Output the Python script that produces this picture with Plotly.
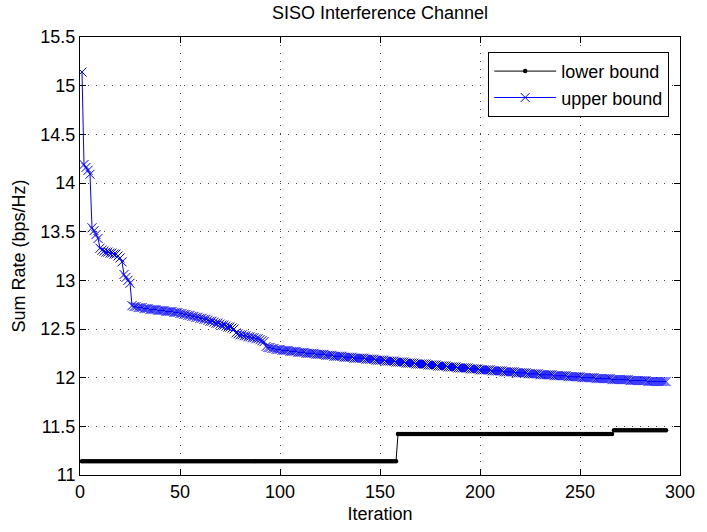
import plotly.graph_objects as go

iterations = list(range(1, 294))

upper_bound = [
    15.14, 14.19, 14.16, 14.13, 14.09, 13.54, 13.51, 13.47, 13.43, 13.33,
    13.31, 13.30, 13.29, 13.29, 13.28, 13.28, 13.27, 13.27, 13.25, 13.23,
    13.19, 13.06, 13.03, 13.00, 12.97, 12.74, 12.73, 12.73, 12.72, 12.72,
    12.72, 12.71, 12.71, 12.71, 12.70, 12.70, 12.70, 12.70, 12.69, 12.69,
    12.69, 12.69, 12.68, 12.68, 12.68, 12.68, 12.67, 12.67, 12.67, 12.66,
    12.66, 12.65, 12.65, 12.64, 12.64, 12.63, 12.63, 12.62, 12.62, 12.61,
    12.61, 12.60, 12.60, 12.59, 12.58, 12.58, 12.57, 12.56, 12.56, 12.55,
    12.54, 12.54, 12.53, 12.52, 12.52, 12.51, 12.50, 12.46, 12.45, 12.44,
    12.44, 12.43, 12.43, 12.42, 12.42, 12.41, 12.41, 12.40, 12.40, 12.39,
    12.38, 12.37, 12.32, 12.31, 12.31, 12.30, 12.30, 12.29, 12.29, 12.29,
    12.28, 12.28, 12.28, 12.28, 12.27, 12.27, 12.27, 12.27, 12.26, 12.26,
    12.26, 12.26, 12.25, 12.25, 12.25, 12.25, 12.25, 12.24, 12.24, 12.24,
    12.24, 12.24, 12.23, 12.23, 12.23, 12.23, 12.22, 12.22, 12.22, 12.22,
    12.22, 12.21, 12.21, 12.21, 12.21, 12.21, 12.20, 12.20, 12.20, 12.20,
    12.20, 12.20, 12.19, 12.19, 12.19, 12.19, 12.19, 12.18, 12.18, 12.18,
    12.18, 12.18, 12.17, 12.17, 12.17, 12.17, 12.17, 12.16, 12.16, 12.16,
    12.16, 12.16, 12.15, 12.15, 12.15, 12.15, 12.15, 12.14, 12.14, 12.14,
    12.14, 12.14, 12.14, 12.13, 12.13, 12.13, 12.13, 12.13, 12.12, 12.12,
    12.12, 12.12, 12.12, 12.11, 12.11, 12.11, 12.11, 12.11, 12.10, 12.10,
    12.10, 12.10, 12.10, 12.10, 12.09, 12.09, 12.09, 12.09, 12.09, 12.08,
    12.08, 12.08, 12.08, 12.08, 12.08, 12.07, 12.07, 12.07, 12.07, 12.07,
    12.07, 12.06, 12.06, 12.06, 12.06, 12.06, 12.06, 12.05, 12.05, 12.05,
    12.05, 12.05, 12.05, 12.04, 12.04, 12.04, 12.04, 12.04, 12.04, 12.03,
    12.03, 12.03, 12.03, 12.03, 12.03, 12.03, 12.02, 12.02, 12.02, 12.02,
    12.02, 12.02, 12.02, 12.01, 12.01, 12.01, 12.01, 12.01, 12.01, 12.01,
    12.00, 12.00, 12.00, 12.00, 12.00, 12.00, 12.00, 11.99, 11.99, 11.99,
    11.99, 11.99, 11.99, 11.99, 11.99, 11.98, 11.98, 11.98, 11.98, 11.98,
    11.98, 11.98, 11.98, 11.98, 11.97, 11.97, 11.97, 11.97, 11.97, 11.97,
    11.97, 11.97, 11.97, 11.96, 11.96, 11.96, 11.96, 11.96, 11.96, 11.96,
    11.96, 11.96, 11.96,
]

lower_bound = [
    11.14, 11.14, 11.14, 11.14, 11.14, 11.14, 11.14, 11.14, 11.14, 11.14,
    11.14, 11.14, 11.14, 11.14, 11.14, 11.14, 11.14, 11.14, 11.14, 11.14,
    11.14, 11.14, 11.14, 11.14, 11.14, 11.14, 11.14, 11.14, 11.14, 11.14,
    11.14, 11.14, 11.14, 11.14, 11.14, 11.14, 11.14, 11.14, 11.14, 11.14,
    11.14, 11.14, 11.14, 11.14, 11.14, 11.14, 11.14, 11.14, 11.14, 11.14,
    11.14, 11.14, 11.14, 11.14, 11.14, 11.14, 11.14, 11.14, 11.14, 11.14,
    11.14, 11.14, 11.14, 11.14, 11.14, 11.14, 11.14, 11.14, 11.14, 11.14,
    11.14, 11.14, 11.14, 11.14, 11.14, 11.14, 11.14, 11.14, 11.14, 11.14,
    11.14, 11.14, 11.14, 11.14, 11.14, 11.14, 11.14, 11.14, 11.14, 11.14,
    11.14, 11.14, 11.14, 11.14, 11.14, 11.14, 11.14, 11.14, 11.14, 11.14,
    11.14, 11.14, 11.14, 11.14, 11.14, 11.14, 11.14, 11.14, 11.14, 11.14,
    11.14, 11.14, 11.14, 11.14, 11.14, 11.14, 11.14, 11.14, 11.14, 11.14,
    11.14, 11.14, 11.14, 11.14, 11.14, 11.14, 11.14, 11.14, 11.14, 11.14,
    11.14, 11.14, 11.14, 11.14, 11.14, 11.14, 11.14, 11.14, 11.14, 11.14,
    11.14, 11.14, 11.14, 11.14, 11.14, 11.14, 11.14, 11.14, 11.14, 11.14,
    11.14, 11.14, 11.14, 11.14, 11.14, 11.14, 11.14, 11.14, 11.42, 11.42,
    11.42, 11.42, 11.42, 11.42, 11.42, 11.42, 11.42, 11.42, 11.42, 11.42,
    11.42, 11.42, 11.42, 11.42, 11.42, 11.42, 11.42, 11.42, 11.42, 11.42,
    11.42, 11.42, 11.42, 11.42, 11.42, 11.42, 11.42, 11.42, 11.42, 11.42,
    11.42, 11.42, 11.42, 11.42, 11.42, 11.42, 11.42, 11.42, 11.42, 11.42,
    11.42, 11.42, 11.42, 11.42, 11.42, 11.42, 11.42, 11.42, 11.42, 11.42,
    11.42, 11.42, 11.42, 11.42, 11.42, 11.42, 11.42, 11.42, 11.42, 11.42,
    11.42, 11.42, 11.42, 11.42, 11.42, 11.42, 11.42, 11.42, 11.42, 11.42,
    11.42, 11.42, 11.42, 11.42, 11.42, 11.42, 11.42, 11.42, 11.42, 11.42,
    11.42, 11.42, 11.42, 11.42, 11.42, 11.42, 11.42, 11.42, 11.42, 11.42,
    11.42, 11.42, 11.42, 11.42, 11.42, 11.42, 11.42, 11.42, 11.42, 11.42,
    11.42, 11.42, 11.42, 11.42, 11.42, 11.42, 11.46, 11.46, 11.46, 11.46,
    11.46, 11.46, 11.46, 11.46, 11.46, 11.46, 11.46, 11.46, 11.46, 11.46,
    11.46, 11.46, 11.46, 11.46, 11.46, 11.46, 11.46, 11.46, 11.46, 11.46,
    11.46, 11.46, 11.46,
]

x_ticks = [0, 50, 100, 150, 200, 250, 300]
y_ticks = [11, 11.5, 12, 12.5, 13, 13.5, 14, 14.5, 15, 15.5]
y_tick_text = ["11", "11.5", "12", "12.5", "13", "13.5", "14", "14.5", "15", "15.5"]

FONT = "Liberation Sans, Arial, Helvetica, sans-serif"

fig = go.Figure()
fig.add_trace(go.Scatter(
    x=iterations, y=lower_bound, name="lower bound", mode="lines+markers",
    line=dict(color="black", width=1),
    marker=dict(symbol="circle", size=4.5, color="black"),
))
fig.add_trace(go.Scatter(
    x=iterations, y=upper_bound, name="upper bound", mode="lines+markers",
    line=dict(color="#0000FF", width=1),
    marker=dict(symbol="x-thin", size=9, color="#0000FF",
                line=dict(color="#0000FF", width=1)),
))

axis_common = dict(
    showline=True, linecolor="black", linewidth=1, mirror="allticks",
    ticks="inside", ticklen=6, tickcolor="black", tickwidth=1,
    showgrid=True, gridcolor="#444444", gridwidth=1, griddash="1px,7px",
    zeroline=False, tickfont=dict(family=FONT, size=18, color="black"),
)

fig.update_layout(
    width=707, height=532,
    margin=dict(l=80, r=18, t=37, b=53),
    paper_bgcolor="white", plot_bgcolor="white",
    title=dict(text="SISO Interference Channel", x=0.5, xref="paper",
               xanchor="center",
               y=1 - 13 / 532, yanchor="middle",
               font=dict(family=FONT, size=18, color="black")),
    xaxis=dict(range=[0, 300], tickvals=x_ticks,
               title=dict(text="Iteration", standoff=6,
                          font=dict(family=FONT, size=18, color="black")),
               **axis_common),
    yaxis=dict(range=[11, 15.5], tickvals=y_ticks, ticktext=y_tick_text,
               title=dict(text="Sum Rate (bps/Hz)", standoff=10,
                          font=dict(family=FONT, size=18, color="black")),
               **axis_common),
    legend=dict(x=0.982, y=0.966, xanchor="right", yanchor="top",
                bgcolor="white", bordercolor="black", borderwidth=1,
                font=dict(family=FONT, size=18, color="black"),
                itemwidth=62, tracegroupgap=0),
    showlegend=True,
)

fig.write_html("out.html")
